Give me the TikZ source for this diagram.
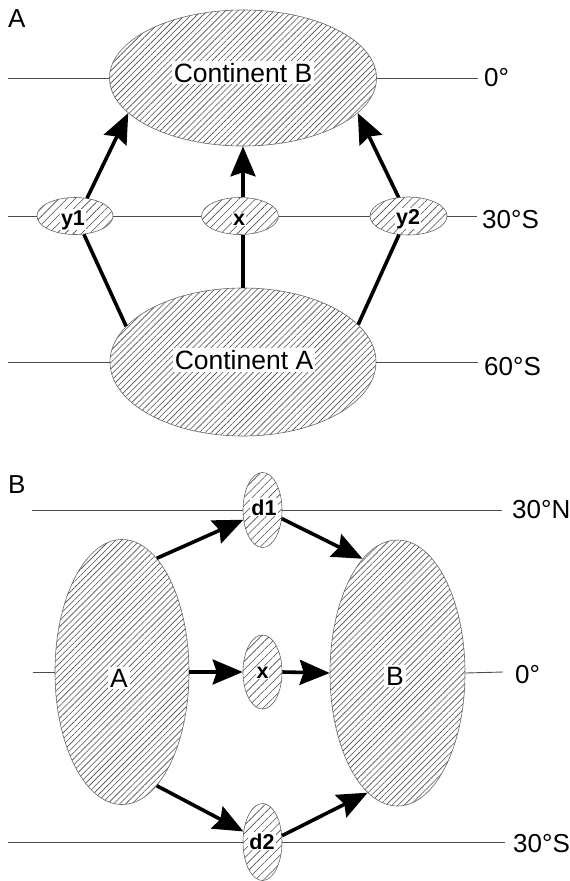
\documentclass[tikz,border=0pt]{standalone}
\usepackage{fontspec}
\setmainfont{Liberation Sans}
\usetikzlibrary{shapes.geometric,arrows.meta,patterns.meta}
\begin{document}
\begin{tikzpicture}[x=1pt,y=-1pt,
  bigell/.style={ellipse,draw=black!60,line width=0.6pt,inner sep=0pt,preaction={fill=white},
    pattern={Lines[angle=45,distance=4.3pt,line width=0.6pt]},pattern color=black!70},
  smallell/.style={ellipse,draw=black!60,line width=0.6pt,inner sep=0pt,preaction={fill=white},
    pattern={Lines[angle=45,distance=5.8pt,line width=0.6pt]},pattern color=black!70},
  lat/.style={draw=black!70,line width=0.9pt},
  arr/.style={line width=3.6pt,-{Stealth[length=30pt,width=25pt,inset=4pt]}},
  seg/.style={line width=3.6pt},
  bigtxt/.style={font=\fontsize{26.5}{32}\selectfont,fill=white,inner sep=2pt,anchor=base},
  smalltxt/.style={font=\fontsize{21.5}{26}\selectfont\bfseries,fill=white,inner sep=1pt,anchor=base},
  deg/.style={font=\fontsize{26}{31}\selectfont,inner sep=0pt,anchor=base west},
]
\useasboundingbox (0,0) rectangle (570,881);

% ---------- Panel A ----------
\node[bigell,minimum width=267pt,minimum height=136pt] (CB) at (243,78) {};
\node[bigell,minimum width=266pt,minimum height=148pt] (CA) at (243,362) {};
\node[smallell,minimum width=76pt,minimum height=37pt] (y1) at (75,216) {};
\node[smallell,minimum width=77pt,minimum height=37pt] (xA) at (240,216) {};
\node[smallell,minimum width=77pt,minimum height=38pt] (y2) at (408.5,216) {};

\coordinate (a0L) at (8,78);   \coordinate (a0R) at (478,78);
\coordinate (a30L) at (8,216); \coordinate (a30R) at (477,216);
\coordinate (a60L) at (8,362); \coordinate (a60R) at (478,362);
\draw[lat] (a0L) -- (CB.west);
\draw[lat] (CB.east) -- (a0R);
\draw[lat] (a30L) -- (y1.west);
\draw[lat] (y1.east) -- (xA.west);
\draw[lat] (xA.east) -- (y2.west);
\draw[lat] (y2.east) -- (a30R);
\draw[lat] (a60L) -- (CA.west);
\draw[lat] (CA.east) -- (a60R);

\draw[seg] (CA.163) -- (y1.-64);
\draw[arr] (y1.56) -- (CB.197);
\draw[seg] (CA.north) -- (CA.north |- xA.south);
\draw[arr] (CB.south |- xA.north) -- (CB.south);
\draw[seg] (CA.18) -- (y2.-117);
\draw[arr] (y2.118) -- (CB.-17);

\node[bigtxt] (tCB) at (243,82) {Continent B};
\node[bigtxt] (tCA) at (244,369.5) {Continent A};
\node[smalltxt] (ty1) at (73,225) {y1};
\node[smalltxt] (txA) at (239,225) {x};
\node[smalltxt] (ty2) at (408,224) {y2};

\node[deg] (pA) at (8,27) {A};
\node[deg] (l0A) at (484,86) {0°};
\node[deg] (l30A) at (482,228) {30°S};
\node[deg] (l60A) at (484,375) {60°S};

% ---------- Panel B ----------
\node[bigell,minimum width=134pt,minimum height=265pt] (Aa) at (122,672) {};
\node[bigell,minimum width=135pt,minimum height=266pt] (Bb) at (397.5,673) {};
\node[smallell,minimum width=39pt,minimum height=75pt] (d1) at (262.5,510) {};
\node[smallell,minimum width=39pt,minimum height=74pt] (xB) at (262.5,672) {};
\node[smallell,minimum width=39pt,minimum height=77pt] (d2) at (262.5,842) {};

\coordinate (b30NL) at (32,510);  \coordinate (b30NR) at (502,510);
\coordinate (b0L) at (33,672);    \coordinate (b0R) at (503,672);
\coordinate (b30SL) at (8,842);   \coordinate (b30SR) at (505,842);
\draw[lat] (b30NL) -- (d1.west);
\draw[lat] (d1.east) -- (b30NR);
\draw[lat] (b0L) -- (Aa.west);
\draw[lat] (Bb.east) -- (b0R);
\draw[lat] (b30SL) -- (d2.west);
\draw[lat] (d2.east) -- (b30SR);

\draw[arr] (Aa.73) -- (d1.207);
\draw[arr] (d1.-24) -- (Bb.107);
\draw[arr] (Aa.east) -- (xB.west);
\draw[arr] (xB.east) -- (Bb.west);
\draw[arr] (Aa.-73) -- (d2.151);
\draw[arr] (d2.18) -- (Bb.-104);

\node[bigtxt] (tA) at (119,687) {A};
\node[bigtxt] (tB) at (395,685) {B};
\node[smalltxt] (td1) at (264,515) {d1};
\node[smalltxt] (txB) at (262.5,678) {x};
\node[smalltxt] (td2) at (262,849) {d2};

\node[deg] (pB) at (8,493) {B};
\node[deg] (l30N) at (512,518) {30°N};
\node[deg] (l0B) at (515,683) {0°};
\node[deg] (l30B) at (513,852) {30°S};
\end{tikzpicture}
\end{document}
